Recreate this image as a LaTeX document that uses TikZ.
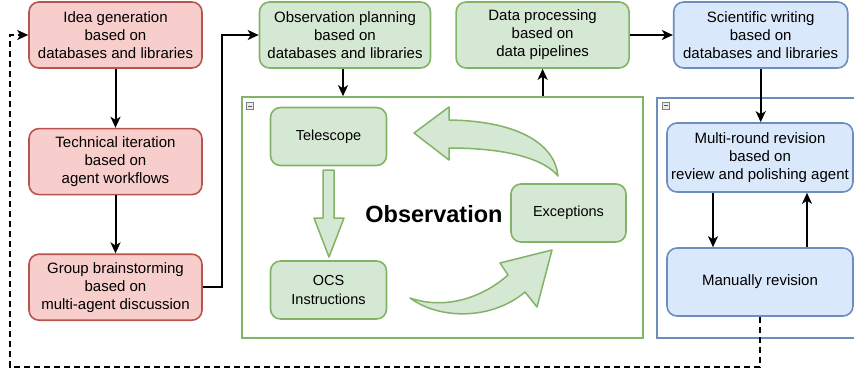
\documentclass[tikz,border=0pt]{standalone}
\usepackage{fontspec}
\setmainfont{Liberation Sans}
\usepackage{xcolor}
\usetikzlibrary{positioning, arrows.meta}

\definecolor{redfill}{HTML}{F8CECC}
\definecolor{redline}{HTML}{B85450}
\definecolor{greenfill}{HTML}{D5E8D4}
\definecolor{greenline}{HTML}{82B366}
\definecolor{bluefill}{HTML}{DAE8FC}
\definecolor{blueline}{HTML}{6C8EBF}

\begin{document}
\begin{tikzpicture}[
      x=1pt, y=-1pt,
      node distance=24pt and 24pt,
      box/.style={draw, rounded corners=10pt, align=center, line width=1.6pt, inner sep=2pt,
        font=\fontsize{15}{18}\selectfont},
      redbox/.style={box, fill=redfill, draw=redline, minimum width=173pt, minimum height=66pt},
      greenbox/.style={box, fill=greenfill, draw=greenline},
      bluebox/.style={box, fill=bluefill, draw=blueline, minimum width=186pt, minimum height=68pt},
      smallbox/.style={greenbox, minimum width=116pt, minimum height=58pt,
        font=\fontsize{14.5}{19}\selectfont},
      frame/.style={draw, line width=1.6pt, inner sep=0pt},
      iconbox/.style={draw=gray, fill=gray!15, minimum size=7pt, inner sep=0pt, line width=0.6pt,
        path picture={\draw[line width=0.9pt, gray!70!black]
          ([xshift=1.5pt]path picture bounding box.west) -- ([xshift=-1.5pt]path picture bounding box.east);}},
      bigarrow/.style={fill=greenfill, draw=greenline, line width=1.5pt, line join=round},
      arr/.style={line width=2pt, -{Stealth[length=11pt, width=10pt, inset=3pt]}}
    ]
    \useasboundingbox (0,0) rectangle (854,373);

    % left column
    \node[redbox] (idea) at (115.5,35) {Idea generation\\based on\\databases and libraries};
    \node[redbox, below=59pt of idea] (tech) {Technical iteration\\based on\\agent workflows};
    \node[redbox, below=58pt of tech] (group) {Group brainstorming\\based on\\multi-agent discussion};

    % top row
    \node[greenbox, minimum width=171pt, minimum height=66pt] (plan) at (345,35)
      {Observation planning\\based on\\databases and libraries};
    \node[greenbox, minimum width=173pt, minimum height=66pt, right=24pt of plan] (proc)
      {Data processing\\based on\\data pipelines};
    \node[box, fill=bluefill, draw=blueline, minimum width=174pt, minimum height=66pt, right=43pt of proc] (write)
      {Scientific writing\\based on\\databases and libraries};

    % observation group
    \node[frame, draw=greenline, minimum width=401pt, minimum height=241pt] (obsbox) at (442.5,217.5) {};
    \node[iconbox] (obsicon) at (250,106) {};
    \node[smallbox] (tele) at (328.5,136.5) {Telescope};
    \node[smallbox] (ocs) at (328.5,290) {OCS\\Instructions};
    \node[smallbox, minimum width=115pt] (exc) at (568.5,213) {Exceptions};
    \node[font=\fontsize{23.5}{26}\selectfont\bfseries] (obstitle) at (434,214) {Observation};

    % block arrows of the loop
    \draw[bigarrow] (323,170) -- (334,170) -- (334,218) -- (344,218) -- (329,257)
      -- (314,218) -- (323,218) -- cycle;
    \draw[bigarrow] (410,298) .. controls (440,320) and (492,320) .. (525,292) -- (537,307)
      -- (552,250) -- (500,263) -- (508,275) .. controls (482,298) and (445,310) .. (410,298) -- cycle;
    \draw[bigarrow] (558,176) .. controls (555,145) and (520,121) .. (449,120) -- (449,107)
      -- (414,133) -- (449,160) -- (449,148) .. controls (510,148) and (545,160) .. (558,176) -- cycle;

    % writing group
    \node[frame, draw=blueline, minimum width=220pt, minimum height=240pt] (wrbox) at (767,218) {};
    \node[iconbox] (wricon) at (665.5,105.5) {};
    \node[bluebox, minimum height=69pt] (multi) at (760,157.5)
      {Multi-round revision\\based on\\review and polishing agent};
    \node[bluebox] (manual) at (760,282) {Manually revision};

    \coordinate (loopcorner) at (10,367);

    \draw[arr] (idea) -- (tech);
    \draw[arr] (tech) -- (group);
    \draw[arr] (group.east) -- ++(19pt,0) |- (plan.west);
    \draw[arr] ([xshift=-2pt]plan.south) -- ([xshift=-2pt]plan.south |- obsbox.north);
    \draw[arr] (obsbox.north -| proc.south) -- (proc.south);
    \draw[arr] (proc) -- (write);
    \draw[arr] (write) -- (write |- multi.north);
    \draw[arr] ([xshift=-47pt]multi.south) -- ([xshift=-47pt]manual.north);
    \draw[arr] ([xshift=47pt]manual.north) -- ([xshift=47pt]multi.south);
    \draw[arr, dash pattern=on 6pt off 4pt] (manual.south) |- (loopcorner) |- (idea.west);
  \end{tikzpicture}
\end{document}
